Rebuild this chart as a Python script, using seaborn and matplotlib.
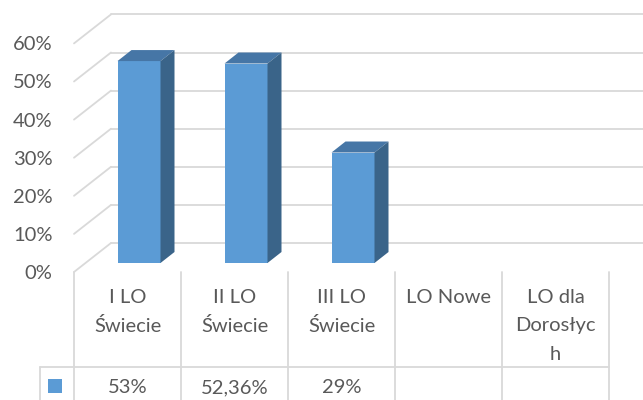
import numpy as np
import pandas as pd
import matplotlib
matplotlib.use("Agg")
import matplotlib.pyplot as plt
from matplotlib.patches import Polygon, Rectangle
from matplotlib.ticker import PercentFormatter
import seaborn as sns

schools = ["I LO\nŚwiecie", "II LO\nŚwiecie", "III LO\nŚwiecie", "LO Nowe", "LO dla\nDorosłyc\nh"]
shares = [0.53, 0.5236, 0.29, np.nan, np.nan]
table_text = ["53%", "52,36%", "29%", "", ""]
y_ticks = [0.0, 0.1, 0.2, 0.3, 0.4, 0.5, 0.6]

FRONT = "#5B9BD5"
TOP = "#4676A6"
SIDE = "#3A6489"
GRID = "#D9D9D9"
TEXT = "#595959"
FS = 14.5

# geometry of the excel 3d chart, in canvas pixels
W_PX, H_PX = 643, 400
COL_PX = 107.0   # width of one category
UNIT_PX = 381.0  # height of 100 %
ZERO_X, ZERO_Y = 127.5, 272.0  # first category centre, 0 % on the front plane
WALL_DX, WALL_DY = 37 / COL_PX, 29 / UNIT_PX
BAR_DX, BAR_DY = 14 / COL_PX, 11 / UNIT_PX
BAR_SHIFT_X, BAR_SHIFT_Y = 11.5 / COL_PX, 9 / UNIT_PX


def dx(px):
    return (px - ZERO_X) / COL_PX


def dy(px):
    return (ZERO_Y - px) / UNIT_PX


sns.set_theme(style="white")
plt.rcParams["font.family"] = ["Lato", "DejaVu Sans"]

df = pd.DataFrame({"school": schools, "share": shares})

fig = plt.figure(figsize=(W_PX / 100, H_PX / 100), dpi=100)
ax = fig.add_axes([74 / W_PX, (H_PX - ZERO_Y) / H_PX, (W_PX - 74) / W_PX, (ZERO_Y - 13) / H_PX])
sns.barplot(data=df, x="school", y="share", order=schools, color=FRONT,
            width=43 / COL_PX, saturation=1, ax=ax, zorder=3)

xmax = dx(W_PX)
ax.set_xlim(-0.5, xmax)
ax.set_ylim(0, dy(13))

# back wall + left wall gridlines
for v in y_ticks:
    ax.plot([-0.5, -0.5 + WALL_DX], [v, v + WALL_DY], color=GRID, lw=1.3, zorder=0.5, clip_on=False)
    ax.plot([-0.5 + WALL_DX, xmax], [v + WALL_DY] * 2, color=GRID, lw=1.3, zorder=0.5, clip_on=False)

# 3d look for the bars: push front face into depth, add top and side faces
for p in list(ax.patches):
    h = p.get_height()
    if not np.isfinite(h) or h == 0:
        continue
    p.set_x(p.get_x() + BAR_SHIFT_X)
    p.set_y(BAR_SHIFT_Y)
    p.set_edgecolor("none")
    x0, x1 = p.get_x(), p.get_x() + p.get_width()
    y0, y1 = p.get_y(), p.get_y() + h
    ax.add_patch(Polygon([(x0, y1), (x1, y1), (x1 + BAR_DX, y1 + BAR_DY), (x0 + BAR_DX, y1 + BAR_DY)],
                         closed=True, facecolor=TOP, edgecolor="none", zorder=3))
    ax.add_patch(Polygon([(x1, y0), (x1 + BAR_DX, y0 + BAR_DY), (x1 + BAR_DX, y1 + BAR_DY), (x1, y1)],
                         closed=True, facecolor=SIDE, edgecolor="none", zorder=3))

ax.set_yticks(y_ticks)
ax.yaxis.set_major_formatter(PercentFormatter(1, decimals=0))
ax.tick_params(axis="y", length=0, pad=15.5, labelsize=FS, labelcolor=TEXT)
ax.set_xticks([])
ax.set_xlabel("")
ax.set_ylabel("")
for s in ax.spines.values():
    s.set_visible(False)

# data table under the chart
bottom = dy(H_PX + 2)
for x in np.arange(-0.5, len(schools)):
    ax.plot([x, x], [0, bottom], color=GRID, lw=1.3, clip_on=False)
ax.plot([dx(40), len(schools) - 0.5], [dy(367)] * 2, color=GRID, lw=1.3, clip_on=False)
ax.plot([dx(40)] * 2, [dy(367), bottom], color=GRID, lw=1.3, clip_on=False)

for i, label in enumerate(schools):
    for j, line in enumerate(label.split("\n")):
        ax.text(i, dy(303 + 28.5 * j), line, ha="center", va="baseline",
                fontsize=FS, color=TEXT, clip_on=False)
    ax.text(i, dy(393), table_text[i], ha="center", va="baseline",
            fontsize=FS, color=TEXT, clip_on=False)

ax.add_patch(Rectangle((dx(48), dy(393)), 14 / COL_PX, 14 / UNIT_PX,
                       facecolor=FRONT, edgecolor="none", clip_on=False))

fig.savefig("out.png", dpi=100)
